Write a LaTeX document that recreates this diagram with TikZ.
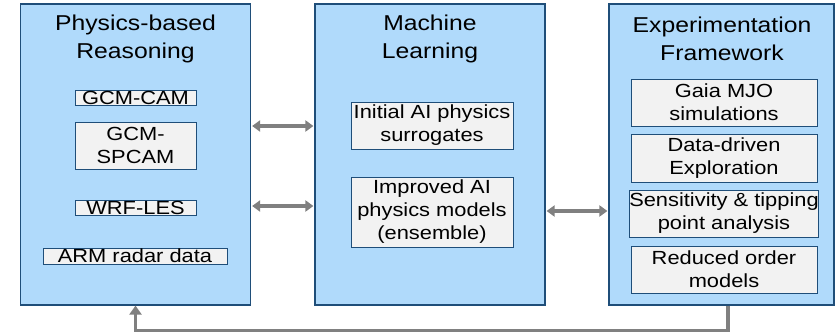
\documentclass[tikz,border=0pt]{standalone}
\usepackage{fontspec}
\setmainfont[FakeStretch=1.15]{Liberation Sans}
\usepackage{xcolor}
\usetikzlibrary{arrows.meta}
\definecolor{vpanel}{HTML}{B0DAFB}
\definecolor{vedge}{HTML}{1F4E79}
\definecolor{vitem}{HTML}{F2F2F2}
\definecolor{vgray}{HTML}{808080}

\begin{document}
\begin{tikzpicture}[x=1pt, y=-1pt,
		panel/.style={draw=vedge, fill=vpanel, line width=1.2pt, minimum height=301pt, inner sep=0pt},
		paneltitle/.style={align=center, font=\fontsize{21.5}{28}\selectfont},
		item/.style={draw=vedge, fill=vitem, line width=1pt, align=center, inner sep=0pt, font=\fontsize{19}{23}\selectfont},
		link/.style={draw=vgray, line width=3.5pt, shorten <=1pt, shorten >=1pt, {Triangle[width=11pt,length=8pt]}-{Triangle[width=11pt,length=8pt]}},
		feed/.style={draw=vgray, line width=3.5pt, -{Triangle[width=12pt,length=9pt]}}]
		\useasboundingbox (0,0) rectangle (836,332);
		% panels
		\node[panel, minimum width=230pt] (phys) at (135.5,154.5) {};
		\node[panel, minimum width=230pt] (ml) at (430,154.5) {};
		\node[panel, minimum width=225pt] (exp) at (721.5,154.5) {};
		\node[paneltitle] (physT) at (135.5,39) {Physics-based\\Reasoning};
		\node[paneltitle] (mlT) at (430,39) {Machine\\Learning};
		\node[paneltitle] (expT) at (722,39) {Experimentation\\Framework};
		% physics items
		\node[item, minimum width=121pt, minimum height=15pt] (cam) at (135.5,97.5) {GCM-CAM};
		\node[item, minimum width=121pt, minimum height=47pt] (spcam) at (135.5,145.5) {GCM-\\SPCAM};
		\node[item, minimum width=121pt, minimum height=15pt] (wrf) at (135.5,208) {WRF-LES};
		\node[item, minimum width=184pt, minimum height=16pt] (arm) at (135,256) {ARM radar data};
		% ml items
		\node[item, minimum width=162pt, minimum height=47pt] (init) at (432,125.5) {Initial AI physics\\surrogates};
		\node[item, minimum width=162pt, minimum height=70pt] (impr) at (432,212) {Improved AI\\physics models\\(ensemble)};
		% experiment items
		\node[item, minimum width=186pt, minimum height=47pt] (gaia) at (724,102.5) {Gaia MJO\\simulations};
		\node[item, minimum width=186pt, minimum height=48pt] (data) at (724,158) {Data-driven\\Exploration};
		\node[item, minimum width=186pt, minimum height=47pt] (sens) at (724,213.5) {Sensitivity \& tipping\\point analysis};
		\node[item, minimum width=186pt, minimum height=47pt] (rom) at (724,269.5) {Reduced order\\models};
		% connectors
		\draw[link] ([yshift=28.5pt]phys.east) -- ([yshift=28.5pt]ml.west);
		\draw[link] ([yshift=-51.5pt]phys.east) -- ([yshift=-51.5pt]ml.west);
		\draw[link] ([yshift=-56.5pt]ml.east) -- ([yshift=-56.5pt]exp.west);
		\draw[feed] ([xshift=6.5pt]exp.south) -- ++(0,25.5) -| (phys.south);
	\end{tikzpicture}
\end{document}
